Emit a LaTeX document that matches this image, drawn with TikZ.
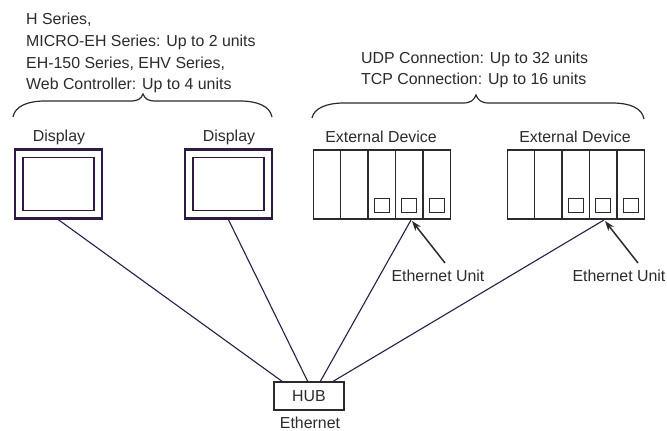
\documentclass[tikz,border=0pt]{standalone}
\usepackage{fontspec}
\setmainfont{Liberation Sans}
\definecolor{wire}{HTML}{2E1A47}
\definecolor{ink}{HTML}{2B2B2B}
\tikzset{
  label/.style={inner sep=0, text=ink, font=\fontsize{15.9}{21.7}\selectfont},
  screen/.style={draw=wire, line width=2.6pt, inner sep=0, minimum width=87pt, minimum height=69pt},
  glass/.style={draw=wire, line width=1.4pt, inner sep=0, minimum width=71pt, minimum height=53pt},
  module/.style={draw=ink, line width=1.4pt, inner sep=0, minimum width=27.4pt, minimum height=69pt},
  port/.style={draw=ink, line width=1pt, inner sep=0, minimum width=15pt, minimum height=14pt},
  hubbox/.style={draw=ink, line width=1.5pt, inner sep=0, minimum width=70pt, minimum height=28pt},
  wireline/.style={draw=wire, line width=1.1pt},
  brace/.style={draw=ink, line width=1.2pt},
  pointer/.style={draw=ink, line width=1.5pt, -{Stealth[length=10pt,width=7pt]}},
}
\usetikzlibrary{arrows.meta}
\begin{document}
\begin{tikzpicture}[x=1pt,y=-1pt]
\useasboundingbox (0,0) rectangle (667,431);
\node[label, anchor=north west, align=left] (lefttext) at (26,13) {H Series,\\MICRO-EH Series: Up to 2 units\\EH-150 Series, EHV Series,\\Web Controller: Up to 4 units};
\node[label, anchor=north west, align=left] (righttext) at (361,51.5) {UDP Connection: Up to 32 units\\TCP Connection: Up to 16 units};
\draw[brace] (13,117) .. controls (15,106) and (28,101) .. (45,101) -- (130,101) .. controls (138,101) and (141,99) .. (143,94) .. controls (145,99) and (148,101) .. (156,101) -- (240,101) .. controls (257,101) and (270,106) .. (272,117);
\draw[brace] (312,118) .. controls (314,108) and (327,103) .. (344,103) -- (463,103) .. controls (471,103) and (474,100) .. (476,95) .. controls (478,100) and (481,103) .. (489,103) -- (612,103) .. controls (630,103) and (642,108) .. (644,119);
\node[label] (dsplabel0) at (59,137) {Display};
\node[label] (dsplabel1) at (229,137) {Display};
\node[screen] (dsp0) at (58.5,184) {};
\node[glass] (glass0) at (58.5,184) {};
\node[screen] (dsp1) at (228.5,184) {};
\node[glass] (glass1) at (228.5,184) {};
\node[label] (devlabel0) at (381,137) {External Device};
\node[label] (devlabel1) at (575,137) {External Device};
\node[module] (mod0) at (327,184.5) {};
\node[module] (mod1) at (354.4,184.5) {};
\node[module] (mod2) at (381.8,184.5) {};
\node[module] (mod3) at (409.2,184.5) {};
\node[module] (mod4) at (436.6,184.5) {};
\node[port] (port2) at (381.8,205) {};
\node[port] (port3) at (409.2,205) {};
\node[port] (port4) at (436.6,205) {};
\node[module] (mod5) at (521,184.5) {};
\node[module] (mod6) at (548.4,184.5) {};
\node[module] (mod7) at (575.8,184.5) {};
\node[module] (mod8) at (603.2,184.5) {};
\node[module] (mod9) at (630.6,184.5) {};
\node[port] (port7) at (575.8,205) {};
\node[port] (port8) at (603.2,205) {};
\node[port] (port9) at (630.6,205) {};
\node[hubbox] (hub) at (309,396) {};
\node[label] (hublabel) at (309,396) {HUB};
\node[label] (netlabel) at (310,423) {Ethernet};
\node[label] (unitlabel0) at (438,276) {Ethernet Unit};
\node[label] (unitlabel1) at (619,276) {Ethernet Unit};
\coordinate (hubin0) at (283,382);
\coordinate (hubin1) at (308,382);
\coordinate (hubin2) at (320,382);
\coordinate (hubin3) at (332,382);
\coordinate (tap0) at (411,220);
\coordinate (tap1) at (604,220);
\coordinate (tip0) at (412,221);
\coordinate (tip1) at (605,221);
\coordinate (tail0) at (445,263);
\coordinate (tail1) at (638,263);
\draw[wireline](dsp0.south) -- (hubin0);
\draw[wireline](dsp1.south) -- (hubin1);
\draw[wireline](tap0) -- (hubin2);
\draw[wireline](tap1) -- (hubin3);
\draw[pointer](tail0) -- (tip0);
\draw[pointer](tail1) -- (tip1);
\end{tikzpicture}
\end{document}
